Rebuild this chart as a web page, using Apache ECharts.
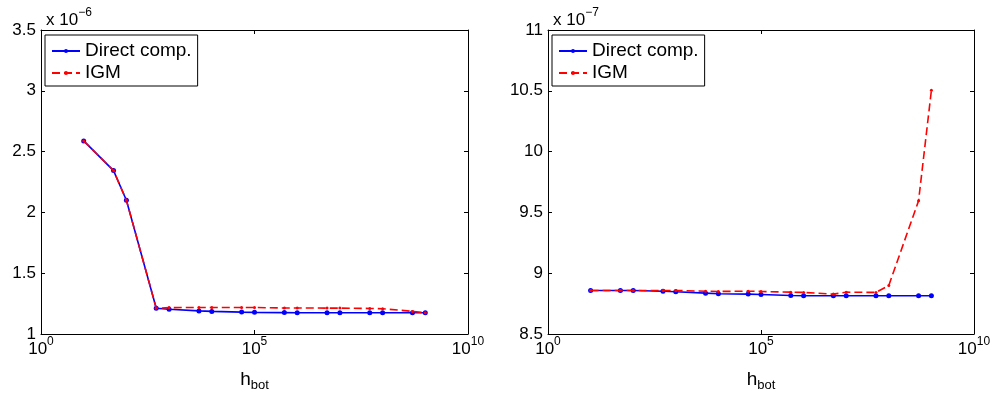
<!DOCTYPE html>
<html>
<head>
<meta charset="utf-8">
<script src="https://cdn.jsdelivr.net/npm/echarts@6/dist/echarts.min.js"></script>
<style>html,body{margin:0;background:#fff}#main{width:995px;height:400px}</style>
</head>
<body>
<div id="main"></div>
<script>
// h_bot sample points (shared by both panels)
var hbot = [10, 50, 100, 500, 1e3, 5e3, 1e4, 5e4, 1e5, 5e5, 1e6, 5e6, 1e7, 5e7, 1e8, 5e8, 1e9];
// left panel, units of 1e-6
var directLeft = [2.588, 2.344, 2.100, 1.212, 1.204, 1.190, 1.186, 1.180, 1.178, 1.176, 1.175, 1.175, 1.175, 1.175, 1.175, 1.175, 1.175];
var igmLeft    = [2.588, 2.344, 2.100, 1.212, 1.217, 1.218, 1.218, 1.218, 1.218, 1.214, 1.214, 1.213, 1.213, 1.210, 1.208, 1.186, 1.175];
// right panel, units of 1e-7
var directRight = [8.858, 8.858, 8.858, 8.852, 8.847, 8.836, 8.831, 8.828, 8.825, 8.817, 8.814, 8.814, 8.814, 8.814, 8.814, 8.814, 8.814];
var igmRight    = [8.858, 8.858, 8.858, 8.858, 8.858, 8.852, 8.850, 8.852, 8.850, 8.844, 8.842, 8.828, 8.844, 8.842, 8.899, 9.596, 10.505];
var xTicks = [1, 1e5, 1e10];
var yRange = [[1, 3.5], [8.5, 11]];
var yScale = ['−6', '−7'];
var names = ['Direct comp.', 'IGM'];

var font = 'Liberation Sans';
var chart = echarts.init(document.getElementById('main'));

function pairs(ys){
	var out = [];
	for (var i = 0; i < hbot.length; i++) out.push([hbot[i], ys[i]]);
	return out;
}
function pow10(v){
	var e = Math.round(Math.log(v) / Math.LN10);
	return '{b|10}{s|' + e + '}';
}
var rich = {
	b: {fontSize: 17, fontFamily: font, fontWeight: 'normal', color: '#000', lineHeight: 22, verticalAlign: 'bottom'},
	s: {fontSize: 12, fontFamily: font, fontWeight: 'normal', color: '#000', lineHeight: 22, verticalAlign: 'top'},
	h: {fontSize: 19, fontFamily: font, fontWeight: 'normal', color: '#000', lineHeight: 24, verticalAlign: 'bottom', padding: [0, 0, 3, 0]},
	sub: {fontSize: 13, fontFamily: font, fontWeight: 'normal', color: '#000', lineHeight: 24, verticalAlign: 'bottom'}
};
var black = {color: '#000', width: 1};

var grids = [
	{left: 41, right: 527, top: 30, bottom: 66},
	{left: 548, right: 21, top: 30, bottom: 66}
];
var xAxes = [], yAxes = [], series = [], titles = [], legends = [];
var leftEdges = [41, 548];

for (var g = 0; g < 2; g++) {
	['bottom', 'top'].forEach(function(pos){
		xAxes.push({
			gridIndex: g, type: 'log', logBase: 10, min: xTicks[0], max: xTicks[2], interval: 5,
			position: pos,
			axisLine: {show: true, onZero: false, lineStyle: black},
			axisTick: {show: true, inside: true, length: 4, lineStyle: black},
			axisLabel: {show: pos == 'bottom', formatter: pow10, rich: rich, margin: 2},
			splitLine: {show: false}, minorTick: {show: false},
			name: pos == 'bottom' ? '{h|h}{sub|bot}' : '',
			nameLocation: 'middle', nameGap: 34,
			nameTextStyle: {rich: rich}
		});
	});
	['left', 'right'].forEach(function(pos){
		yAxes.push({
			gridIndex: g, type: 'value', min: yRange[g][0], max: yRange[g][1], interval: 0.5,
			position: pos,
			axisLine: {show: true, onZero: false, lineStyle: black},
			axisTick: {show: true, inside: true, length: 4, lineStyle: black},
			axisLabel: {show: pos == 'left', fontSize: 17, fontFamily: font, color: '#000', margin: 5},
			splitLine: {show: false}
		});
	});
	var d = g == 0 ? directLeft : directRight;
	var r = g == 0 ? igmLeft : igmRight;
	series.push({
		name: names[0], type: 'line', xAxisIndex: g * 2, yAxisIndex: g * 2,
		data: pairs(d), symbol: 'circle', symbolSize: 5, showSymbol: true,
		lineStyle: {color: '#0000ff', width: 1.6},
		itemStyle: {color: '#0000ff'}, color: '#0000ff', z: 2
	});
	series.push({
		name: names[1], type: 'line', xAxisIndex: g * 2, yAxisIndex: g * 2,
		data: pairs(r), symbol: 'circle', symbolSize: 3, showSymbol: true,
		lineStyle: {color: '#ff0000', width: 1.6, type: [8, 4]},
		itemStyle: {color: '#ff0000'}, color: '#ff0000', z: 3
	});
	titles.push({
		text: '{b|x 10}{s|' + yScale[g] + '}',
		left: leftEdges[g], top: 2,
		textStyle: {rich: rich, fontWeight: 'normal'}
	});
	legends.push({
		left: leftEdges[g] + 4, top: 35, orient: 'vertical',
		data: names,
		backgroundColor: '#fff', borderColor: '#000', borderWidth: 1,
		padding: [6, 6, 3, 6], itemWidth: 28, itemHeight: 5, itemGap: 2,
		textStyle: {fontSize: 19, fontFamily: font, color: '#000', lineHeight: 20}
	});
}

chart.setOption({
	animation: false,
	backgroundColor: '#fff',
	title: titles,
	legend: legends,
	grid: grids,
	xAxis: xAxes,
	yAxis: yAxes,
	series: series
});
</script>
</body>
</html>
